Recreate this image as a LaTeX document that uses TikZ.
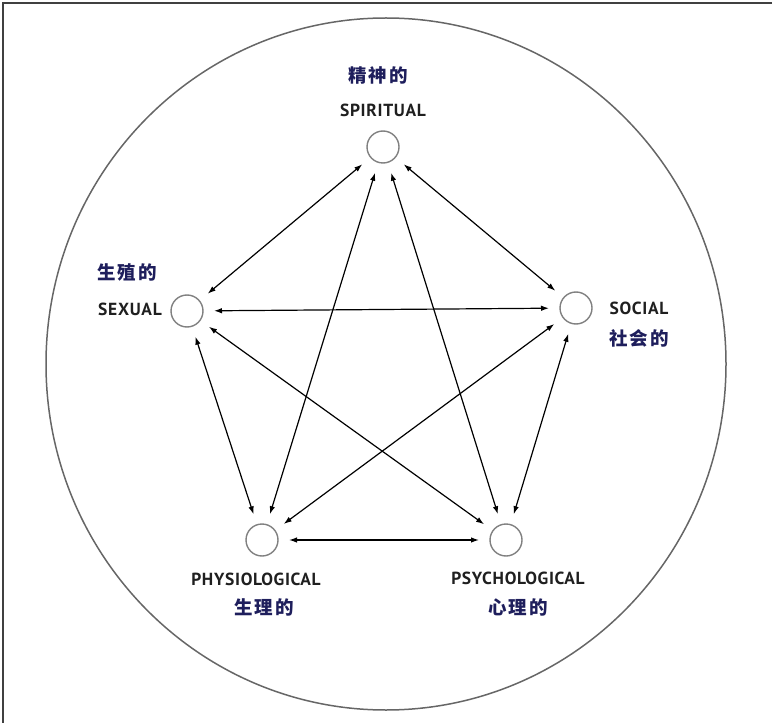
\documentclass[tikz,border=0pt]{standalone}
\usepackage{fontspec}
\usepackage{tikz}
\usetikzlibrary{arrows.meta}
\newfontfamily\labfont{PT Sans}[LetterSpace=4]
\newfontfamily\cjk{Noto Sans CJK SC}[LetterSpace=12]
\definecolor{navy}{HTML}{1E1E5C}
\tikzset{
	dot/.style={circle, draw=black!50, line width=1.4pt, minimum size=32pt, inner sep=0pt, outer sep=11pt},
	en/.style={font=\labfont\bfseries\fontsize{17.5}{18}\selectfont, text=black!88},
	zh/.style={font=\cjk\bfseries\fontsize{18.5}{19}\selectfont, text=navy},
	link/.style={line width=1.2pt, {Latex[length=8pt,width=5.5pt]}-{Latex[length=8pt,width=5.5pt]}}
}

\begin{document}
\begin{tikzpicture}[x=1pt, y=-1pt]
		%%%%% START %%%%%
		
		\useasboundingbox (0, 0) rectangle (776, 727);
		\draw[line width=1.6pt, color=black!75] (772, 3) -- (3, 3) -- (3, 723);
		\draw[line width=1.5pt, color=black!60] (386, 364) ellipse (340 and 346);
		
		\node[dot] (spiritual) at (383, 147) {};
		\node[dot] (sexual) at (187, 311) {};
		\node[dot] (social) at (576, 308) {};
		\node[dot] (physio) at (262, 540) {};
		\node[dot] (psycho) at (506, 540) {};
		
		\node[zh] (spiritualzh) at (378, 75) {精神的};
		\node[en] (spiritualen) at (383, 110) {SPIRITUAL};
		\node[zh] (sexualzh) at (127, 272) {生殖的};
		\node[en] (sexualen) at (130, 309) {SEXUAL};
		\node[en] (socialen) at (639, 308) {SOCIAL};
		\node[zh] (socialzh) at (639, 338) {社会的};
		\node[en] (physioen) at (256, 579) {PHYSIOLOGICAL};
		\node[zh] (physiozh) at (264, 607) {生理的};
		\node[en] (psychoen) at (518, 578) {PSYCHOLOGICAL};
		\node[zh] (psychozh) at (518, 607) {心理的};
		
		\draw[link] (spiritual) -- (sexual);
		\draw[link] (spiritual) -- (social);
		\draw[link] (spiritual) -- (physio);
		\draw[link] (spiritual) -- (psycho);
		\draw[link] (sexual) -- (social);
		\draw[link] (sexual) -- (physio);
		\draw[link] (sexual) -- (psycho);
		\draw[link] (social) -- (physio);
		\draw[link] (social) -- (psycho);
		\draw[link] (physio) -- (psycho);
		
		%%%%% END %%%%%
\end{tikzpicture}
\end{document}
